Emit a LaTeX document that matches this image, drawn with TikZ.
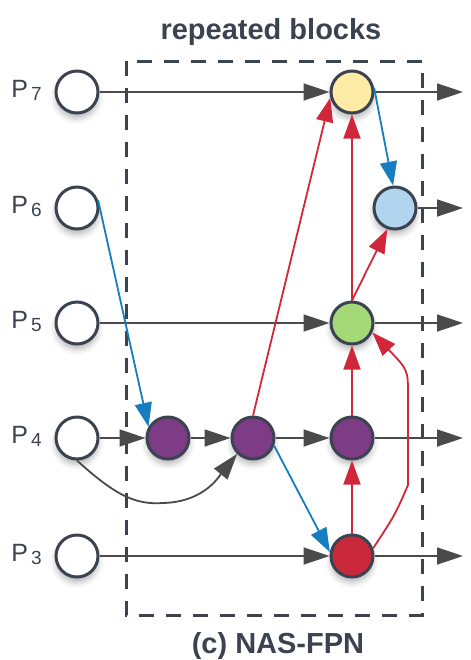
\documentclass[tikz,border=0pt]{standalone}
\usepackage{fontspec}
\setmainfont{Liberation Sans}
\usetikzlibrary{arrows.meta,shadows.blur}
\definecolor{ink}{HTML}{3B4350}
\definecolor{wire}{HTML}{4A4A4A}
\definecolor{redline}{HTML}{D0283A}
\definecolor{blueline}{HTML}{157DC0}
\definecolor{fillY}{HTML}{FDEBA6}
\definecolor{fillB}{HTML}{B2D5EF}
\definecolor{fillG}{HTML}{A4D977}
\definecolor{fillM}{HTML}{7E3C86}
\definecolor{fillR}{HTML}{C9283A}
\newcommand\pidx[1]{\kern1.5pt\raisebox{-1.8pt}{\fontsize{9.5}{9.5}\selectfont#1}}

\begin{document}
\begin{tikzpicture}[x=0.5pt, y=-0.5pt, >={Triangle[length=13pt,width=8.5pt]},
  feat/.style={circle, draw=ink, line width=1.5pt, minimum size=21pt, inner sep=0pt,
    blur shadow={shadow xshift=0pt, shadow yshift=-2.5pt, shadow blur radius=3pt, shadow opacity=30}},
  plain/.style={->, draw=wire, line width=0.9pt},
  redarr/.style={->, draw=redline, line width=0.9pt, >={Triangle[length=12pt,width=8.5pt]}},
  bluearr/.style={->, draw=blueline, line width=0.9pt, >={Triangle[length=12pt,width=8.5pt]}},
  lbl/.style={text=ink, font=\fontsize{12.5}{14}\selectfont, anchor=base west, inner sep=0pt},
  caption/.style={text=ink, font=\bfseries\fontsize{14.5}{17}\selectfont, anchor=base}]
  \useasboundingbox (0,0) rectangle (471,660);

  % repeated block frame
  \draw[ink, line width=1.5pt, dash pattern=on 7.5pt off 6pt] (126,61) rectangle (422,615);
  \node[caption] (title) at (271,39) {repeated blocks};
  \node[caption] (cap) at (278,653) {(c) NAS-FPN};

  % input levels
  \foreach \lev/\yy in {7/92, 6/208, 5/323, 4/438, 3/556} {
    \node[feat, fill=white] (P\lev) at (77,\yy) {};
    \node[lbl] (L\lev) at (11,\yy+5) {P\pidx{\lev}};
  }

  % block nodes
  \node[feat, fill=fillY] (Y) at (352,92) {};
  \node[feat, fill=fillB] (B) at (395,208) {};
  \node[feat, fill=fillG] (G) at (352,323) {};
  \node[feat, fill=fillM] (M1) at (168,438) {};
  \node[feat, fill=fillM] (M2) at (253,438) {};
  \node[feat, fill=fillM] (M3) at (352,438) {};
  \node[feat, fill=fillR] (R) at (352,556) {};

  % outputs
  \foreach \src in {Y, B, G, M3, R} {
    \coordinate (O\src) at (463,0 |- \src);
    \draw[plain] (\src) -- (O\src);
  }

  % straight connections
  \draw[plain] (P7) -- (Y);
  \draw[plain] (P5) -- (G);
  \draw[plain] (P4) -- (M1);
  \draw[plain] (M1) -- (M2);
  \draw[plain] (M2) -- (M3);
  \draw[plain] (P3) -- (R);
  \draw[plain] (P4.south) .. controls (115,495) and (135,505) .. (163,503)
    .. controls (205,502) and (220,475) .. (M2.south west);

  % resampled inputs
  \draw[bluearr] (P6.20) -- (M1.150);
  \draw[bluearr] (M2.-20) -- (R.170);
  \draw[bluearr] (Y.10) -- (B.95);

  % sum operations
  \draw[redarr] (M2.north) -- (Y.195);
  \draw[redarr] (G.north) -- (Y.south);
  \draw[redarr] (G.north) -- (B.250);
  \draw[redarr] (M3.north) -- (G.south);
  \draw[redarr] (R.north) -- (M3.south);
  \draw[redarr] (R.20) .. controls (395,515) .. (408,485) -- (408,395)
    .. controls (408,370) .. (G.-25);
\end{tikzpicture}
\end{document}
